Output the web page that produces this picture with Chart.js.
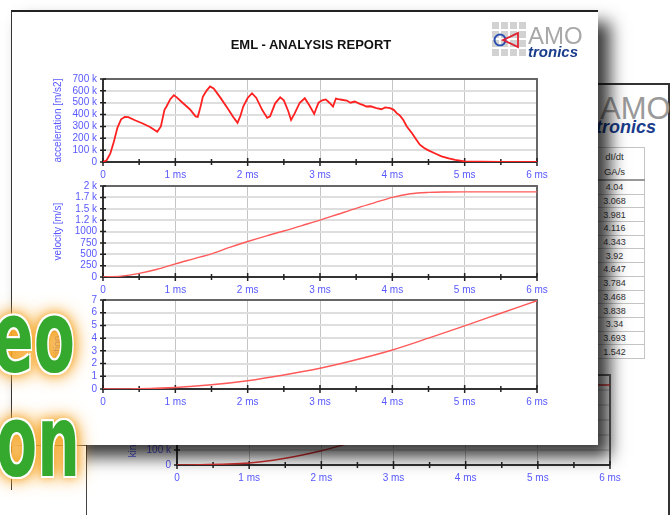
<!DOCTYPE html>
<html><head><meta charset="utf-8">
<script src="https://cdn.jsdelivr.net/npm/chart.js@4.4.0/dist/chart.umd.min.js"></script>
<style>
html,body{margin:0;padding:0;background:#fff;width:672px;height:515px;overflow:hidden;position:relative;font-family:"Liberation Sans",Arial,sans-serif;}
.abs{position:absolute;}
#back{left:86px;top:83px;width:584px;height:460px;background:#fff;border-top:2px solid #333;border-left:1px solid #444;border-right:2px solid #333;box-sizing:border-box;z-index:1;}
#front{left:11px;top:10px;width:587px;height:435px;background:#fff;border-top:2px solid #222;border-left:1px solid #333;box-sizing:border-box;z-index:5;box-shadow:12px 12px 16px rgba(0,0,0,0.78);}
.cc{position:absolute;}
.cc canvas{display:block;}
#mask{left:0;top:446px;width:86px;height:69px;background:#fff;z-index:7;}
#vline{left:11px;top:446px;width:1px;height:44px;background:#333;z-index:8;}
.deco{position:absolute;z-index:10;font-family:"DejaVu Sans",sans-serif;font-weight:bold;font-size:100px;line-height:100px;color:#35a82e;transform:scaleX(0.6);transform-origin:0 0;white-space:nowrap;
text-shadow:2px 2px 0 #fff,-2px -2px 0 #fff,2px -2px 0 #fff,-2px 2px 0 #fff,0 0 12px #f5a623,0 0 20px #f5a623,0 0 28px #f0a030;}
#title{left:111px;width:400px;top:37px;text-align:center;font:bold 13px "Liberation Sans",Arial,sans-serif;line-height:16px;color:#111;z-index:6;}
#tbl{position:absolute;left:584px;top:147px;border-collapse:collapse;z-index:2;font:9px "Liberation Sans",Arial,sans-serif;color:#333;}
#tbl td,#tbl th{border:1px solid #c4c4c4;width:59px;text-align:center;padding:0;}
#tbl th{height:31px;font-weight:normal;font-size:9.5px;line-height:15px;border-bottom:2px solid #999;}
#tbl td{height:12.7px;line-height:12px;}
</style></head>
<body>
<div id="back" class="abs"></div>
<div class="abs" style="left:600px;top:93px;font:31px 'Liberation Sans',Arial,sans-serif;line-height:31px;color:#9a9a9a;z-index:2;">AMO</div>
<div class="abs" style="left:596px;top:118px;font:italic bold 18px 'Liberation Sans',Arial,sans-serif;line-height:18px;color:#1a3c8c;z-index:2;">tronics</div>
<table id="tbl"><thead><tr><th>dI/dt<br>GA/s</th></tr></thead><tbody id="tb"></tbody></table>
<div class="cc" id="cBack" style="left:90px;top:364px;width:540px;height:121px;z-index:2;"><canvas id="chBack"></canvas></div>

<div id="front" class="abs"></div>
<div id="title" class="abs">EML - ANALYSIS REPORT</div>
<div class="abs" id="logoGrid" style="left:492px;top:22px;width:34px;height:34px;z-index:6;"></div>
<svg class="abs" style="left:492px;top:30px;z-index:6;" width="30" height="20" viewBox="0 0 30 20">
<circle cx="8" cy="10" r="5.5" fill="none" stroke="#2a4fb0" stroke-width="2"/>
<polygon points="11,10 26,3 26,17" fill="none" stroke="#e02030" stroke-width="1.8"/>
</svg>
<div class="abs" style="left:528px;top:24px;font:24px 'Liberation Sans',Arial,sans-serif;line-height:24px;color:#a8a8a8;z-index:6;">AMO</div>
<div class="abs" style="left:528px;top:44px;font:italic bold 15px 'Liberation Sans',Arial,sans-serif;line-height:15px;color:#1a3c8c;z-index:6;">tronics</div>

<div class="cc" style="left:50px;top:68px;width:507px;height:114px;z-index:6;"><canvas id="ch1"></canvas></div>
<div class="cc" style="left:50px;top:175px;width:507px;height:122px;z-index:6;"><canvas id="ch2"></canvas></div>
<div class="cc" style="left:50px;top:289px;width:507px;height:120px;z-index:6;"><canvas id="ch3"></canvas></div>

<div id="mask" class="abs"></div>
<div id="vline" class="abs"></div>
<div class="deco" style="left:-7px;top:288px;">eo</div>
<div class="deco" style="left:-4px;top:392px;">on</div>

<script>
// ---- data ----
const xTickLabels = ['0','1 ms','2 ms','3 ms','4 ms','5 ms','6 ms'];

const accelTime = [0,0.05,0.1,0.15,0.2,0.25,0.3,0.35,0.45,0.55,0.65,0.75,0.8,0.85,0.88,0.93,0.98,1.02,1.1,1.2,1.28,1.31,1.35,1.38,1.43,1.48,1.53,1.62,1.72,1.8,1.86,1.9,1.94,2.0,2.06,2.12,2.2,2.27,2.31,2.38,2.45,2.5,2.56,2.6,2.65,2.72,2.79,2.85,2.92,2.95,2.98,3.03,3.08,3.13,3.18,3.22,3.25,3.3,3.37,3.42,3.48,3.55,3.6,3.64,3.7,3.78,3.85,3.9,3.97,4.02,4.06,4.1,4.15,4.2,4.27,4.33,4.38,4.44,4.5,4.6,4.68,4.78,4.87,5.0,5.2,5.5,6.0];
const accelValues = [0,15000,70000,170000,290000,360000,380000,378000,350000,325000,295000,255000,300000,440000,470000,530000,563000,545000,500000,445000,385000,380000,470000,550000,600000,638000,620000,545000,455000,380000,330000,390000,470000,540000,580000,540000,440000,372000,385000,495000,545000,520000,430000,355000,410000,500000,538000,480000,405000,455000,500000,520000,528000,500000,468000,535000,530000,525000,518000,500000,510000,490000,480000,468000,470000,455000,445000,460000,454000,440000,412000,395000,356000,300000,244000,190000,146000,118000,98000,70000,48000,30000,18000,6000,2000,0,0];
const accelTickLabels = ['0','100 k','200 k','300 k','400 k','500 k','600 k','700 k'];

const veloTime = [0,0.25,0.5,0.75,1,1.25,1.5,1.75,2,2.25,2.5,2.75,3,3.25,3.5,3.75,4,4.25,4.5,4.75,5,5.5,6];
const veloValues = [0,20,80,170,290,400,510,650,780,900,1010,1130,1250,1380,1510,1630,1750,1830,1860,1868,1870,1870,1870];
const veloTickLabels = ['0','250','500','750','1000','1.2 k','1.5 k','1.7 k','2 k'];

const posTime = [0,0.5,1,1.5,2,2.5,3,3.5,4,4.5,5,5.5,6];
const posValues = [0,0.03,0.12,0.33,0.65,1.1,1.63,2.3,3.07,4.0,4.97,5.96,6.95];
const posTickLabels = ['0','1','2','3','4','5','6','7'];

const energyTime = [0,1,1.5,2,2.5,3,3.5,4,4.5,5,6];
const energyValues = [0,13000,45000,95000,160000,230000,340000,460000,515000,533000,533000];
const energyTickLabels = ['0','100 k','200 k','300 k','400 k','500 k','600 k'];

const tableValues = ['4.04','3.068','3.981','4.116','4.343','3.92','4.647','3.784','3.468','3.838','3.34','3.693','1.542'];

// ---- decoration ----
const tb = document.getElementById('tb');
tableValues.forEach(v => { const tr = document.createElement('tr'); const td = document.createElement('td'); td.textContent = v; tr.appendChild(td); tb.appendChild(tr); });
const lg = document.getElementById('logoGrid');
for (let r = 0; r < 4; r++) for (let c = 0; c < 4; c++) {
  const d = document.createElement('div');
  d.style.cssText = 'position:absolute;width:7px;height:7px;background:#d2d2d2;left:' + (c*9) + 'px;top:' + (r*9) + 'px';
  lg.appendChild(d);
}

// ---- charts ----
const BLUE = '#5858ff';
const FONT = {family: '"Liberation Sans", Arial, sans-serif', size: 10};

const framePlugin = {
  id: 'frame',
  beforeDatasetsDraw(chart) {
    const {ctx, chartArea: a, scales: {x, y}} = chart;
    ctx.save();
    ctx.lineWidth = 2;
    ctx.strokeStyle = '#666';
    ctx.beginPath(); ctx.moveTo(a.left, a.top); ctx.lineTo(a.right, a.top); ctx.lineTo(a.right, a.bottom); ctx.stroke();
    ctx.strokeStyle = '#333';
    ctx.beginPath(); ctx.moveTo(a.left, a.top); ctx.lineTo(a.left, a.bottom); ctx.lineTo(a.right, a.bottom); ctx.stroke();
    ctx.lineWidth = 1.5;
    ctx.strokeStyle = '#222';
    ctx.beginPath();
    y.ticks.forEach(t => { const py = y.getPixelForValue(t.value); ctx.moveTo(a.left - 3, py); ctx.lineTo(a.left + 3, py); });
    x.ticks.forEach(t => { const px = x.getPixelForValue(t.value); const m = Math.abs(t.value - Math.round(t.value)) < 1e-6; const l = m ? 4 : 3; ctx.moveTo(px, a.bottom - l); ctx.lineTo(px, a.bottom + l); });
    ctx.stroke();
    ctx.restore();
  }
};

function makeChart(id, times, values, yMax, yStep, yLabels, yTitle, titlePad, yWidth, lineColor, lineWidth, smooth) {
  return new Chart(document.getElementById(id), {
    type: 'line',
    data: { datasets: [{ data: times.map((t, i) => ({x: t, y: values[i]})), borderColor: lineColor, borderWidth: lineWidth, pointRadius: 0, fill: false, tension: 0, cubicInterpolationMode: smooth ? 'monotone' : 'default' }] },
    options: {
      responsive: true, maintainAspectRatio: false, animation: false,
      layout: { padding: { top: 11, right: 20, left: 0, bottom: 0 } },
      plugins: { legend: { display: false }, tooltip: { enabled: false } },
      scales: {
        x: {
          type: 'linear', min: 0, max: 6,
          afterFit: s => { s.height = 20; s.paddingLeft = 0; s.paddingRight = 0; },
          ticks: { stepSize: 0.5, autoSkip: false, maxRotation: 0, padding: 7, color: BLUE, font: FONT,
            callback: v => Math.abs(v - Math.round(v)) < 1e-6 ? xTickLabels[Math.round(v)] : '' },
          grid: { drawTicks: false, lineWidth: 1, color: c => (c.tick && Math.abs(c.tick.value - Math.round(c.tick.value)) < 1e-6) ? '#c4c4c4' : 'rgba(0,0,0,0)' },
          border: { display: false }
        },
        y: {
          min: 0, max: yMax,
          afterFit: s => { s.width = yWidth; s.paddingTop = 0; s.paddingBottom = 0; },
          ticks: { stepSize: yStep, autoSkip: false, padding: 6, color: BLUE, font: FONT,
            callback: v => yLabels[Math.round(v / yStep)] },
          grid: { drawTicks: false, lineWidth: 2, color: '#dedede' },
          border: { display: false },
          title: { display: true, text: yTitle, color: BLUE, font: FONT, padding: { top: titlePad, bottom: 0 } }
        }
      }
    },
    plugins: [framePlugin]
  });
}

makeChart('ch1', accelTime, accelValues, 700000, 100000, accelTickLabels, 'acceleration [m/s2]', 2, 53, '#ff2020', 1.8, false);
makeChart('ch2', veloTime, veloValues, 2000, 250, veloTickLabels, 'velocity [m/s]', 2, 53, '#ff5a5a', 1.4, true);
makeChart('ch3', posTime, posValues, 7, 1, posTickLabels, 'position [m]', 2, 53, '#ff5a5a', 1.4, true);
makeChart('chBack', energyTime, energyValues, 600000, 100000, energyTickLabels, 'kinetic energy [J]', 37, 87, '#e03030', 1.4, true);
</script>
</body></html>
